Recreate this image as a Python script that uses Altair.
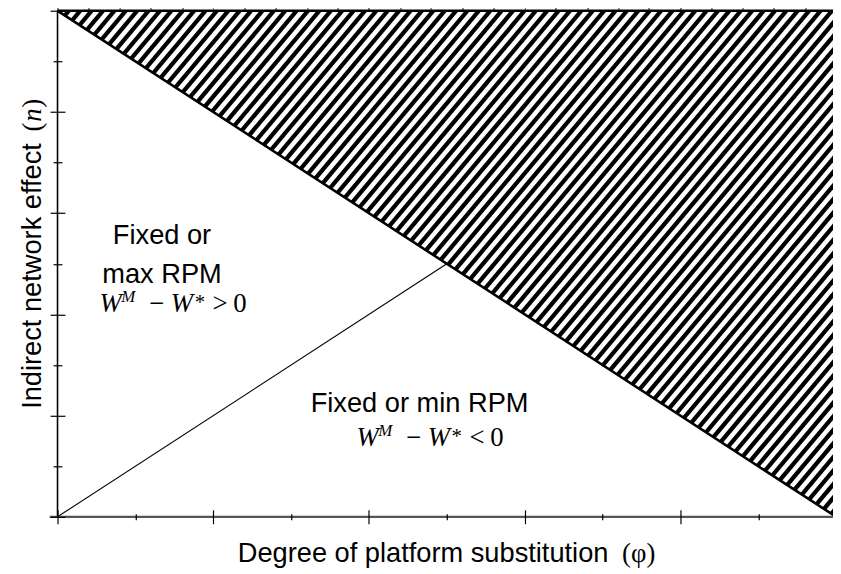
import altair as alt
import numpy as np
import pandas as pd

# ---------------- data ----------------
x_max = 4.98
y_max = 5.0
x_major = [0, 1, 2, 3, 4]
x_minor = [0.5, 1.5, 2.5, 3.5, 4.5]
y_major = [0, 1, 2, 3, 4, 5]
y_minor = [0.5, 1.5, 2.5, 3.5, 4.5]

diag_x = [0, 5]
diag_y = [5, 0]
inner_x = [0, 2.5]
inner_y = [0, 2.5]

label_text = ["Fixed or", "max RPM", "Fixed or min RPM"]
label_x = [0.671, 0.671, 2.325]
label_y = [2.70, 2.31, 1.037]

formula_x = [0.27, 1.92]
formula_y = [2.02, 0.70]
formula_rel = [">", "<"]

x_title = "Degree of platform substitution"
x_title_sym = "(φ)"
y_title = "Indirect network effect"
y_title_sym = "n"

# ---------------- layout ----------------
W, H = 783, 511
SANS = "Liberation Sans"
SERIF = "Liberation Serif"
FS = 27.5

xs = alt.Scale(domain=[0, x_max], nice=False, zero=False)
ys = alt.Scale(domain=[0, y_max], nice=False, zero=False)

# hatch pattern (decorative stripes)
px_per_x = W / x_max
period_px = 11.5
angle = np.deg2rad(50)
run_x = (H / np.tan(angle)) / px_per_x
starts = np.arange(-run_x, x_max + 0.1, period_px / px_per_x)
hatch = pd.DataFrame({"x": starts, "y": 0.0, "x2": starts + run_x, "y2": y_max})

def X(field, axis=None):
    return alt.X(field, type="quantitative", scale=xs, axis=axis)

def Y(field, axis=None):
    return alt.Y(field, type="quantitative", scale=ys, axis=axis)

ax_major_x = alt.Axis(values=x_major, tickSize=14, offset=-7, domain=False, labels=False,
                      title=None, grid=False, tickColor="black", tickWidth=1.2, zindex=1,
                      orient="bottom")
ax_major_y = alt.Axis(values=y_major, tickSize=15, offset=-7.5, domain=False, labels=False,
                      title=None, grid=False, tickColor="black", tickWidth=1.2, zindex=1,
                      orient="left")
ax_minor_x = alt.Axis(values=x_minor, tickSize=6, offset=-3, domain=False, labels=False,
                      title=None, grid=False, tickColor="black", tickWidth=1.2, zindex=1,
                      orient="bottom")
ax_minor_y = alt.Axis(values=y_minor, tickSize=9, offset=-4.5, domain=False, labels=False,
                      title=None, grid=False, tickColor="black", tickWidth=1.2, zindex=1,
                      orient="left")

stripes = alt.Chart(hatch).mark_rule(clip=True, color="black", strokeWidth=4.3).encode(
    x=X("x", ax_major_x), y=Y("y", ax_major_y), x2="x2", y2="y2")

diag_df = pd.DataFrame({"x": diag_x, "y": diag_y})
white = alt.Chart(diag_df).mark_area(clip=True, color="white", opacity=1).encode(
    x=X("x"), y=Y("y"), y2=alt.datum(0))

top_border = alt.Chart(pd.DataFrame({"a": [0]})).mark_rule(color="black", strokeWidth=2.5).encode(
    x=alt.datum(0, type="quantitative", scale=xs), x2=alt.datum(x_max), y=alt.datum(y_max, type="quantitative", scale=ys))

diag = alt.Chart(diag_df).mark_line(clip=True, color="black", strokeWidth=2.6).encode(
    x=X("x"), y=Y("y"))

inner = alt.Chart(pd.DataFrame({"x": inner_x, "y": inner_y})).mark_line(color="black", strokeWidth=1.1).encode(
    x=X("x", ax_minor_x), y=Y("y", ax_minor_y))

y_axis_line = alt.Chart(pd.DataFrame({"a": [0]})).mark_rule(color="black", strokeWidth=1.6).encode(
    x=alt.datum(0, type="quantitative", scale=xs), y=alt.datum(0, type="quantitative", scale=ys), y2=alt.datum(y_max))

x_axis_line = alt.Chart(pd.DataFrame({"a": [0]})).mark_rule(color="#555555", strokeWidth=2.2).encode(
    x=alt.datum(-0.05, type="quantitative", scale=xs), x2=alt.datum(x_max), y=alt.datum(0, type="quantitative", scale=ys))

labels = alt.Chart(pd.DataFrame({"x": label_x, "y": label_y, "t": label_text})).mark_text(
    font=SANS, fontSize=FS, align="center", baseline="alphabetic", color="black").encode(
    x=X("x"), y=Y("y"), text="t:N")

fdf = pd.DataFrame({"x": formula_x, "y": formula_y, "rel": formula_rel})
pieces = [
    ("W", "italic", 27, 0, 0),
    ("M", "italic", 17, 22, -10),
    ("−", "normal", 27, 50, 0),
    ("W", "italic", 27, 72, 0),
    ("*", "normal", 21, 96, -3),
    (None, "normal", 27, 114, 0),
    ("0", "normal", 27, 135, 0),
]
formula_layers = []
for txt, style, size, dx, dy in pieces:
    m = alt.Chart(fdf).mark_text(font=SERIF, fontStyle=style, fontSize=size, align="left",
                                 baseline="alphabetic", dx=dx, dy=dy, color="black")
    if txt is None:
        formula_layers.append(m.encode(x=X("x"), y=Y("y"), text="rel:N"))
    else:
        formula_layers.append(m.encode(x=X("x"), y=Y("y"), text=alt.value(txt)))

# axis titles as text marks (mixed fonts)
tdf = pd.DataFrame({"a": [0]})
xt_anchor_x = (240 - 58) / px_per_x
xtitle = alt.Chart(tdf).mark_text(font=SANS, fontSize=FS, align="left", baseline="alphabetic",
                                  dy=46, color="black").encode(
    x=alt.datum(xt_anchor_x, type="quantitative", scale=xs), y=alt.datum(0, type="quantitative", scale=ys),
    text=alt.value(x_title))
xtitle_sym = alt.Chart(tdf).mark_text(font=SERIF, fontSize=27, align="left", baseline="alphabetic",
                                      dx=388, dy=46, color="black").encode(
    x=alt.datum(xt_anchor_x, type="quantitative", scale=xs), y=alt.datum(0, type="quantitative", scale=ys),
    text=alt.value(x_title_sym))

yt_x = (41 - 58) / px_per_x
yt_y = (519 - 410) / (H / y_max)
ytitle = alt.Chart(tdf).mark_text(font=SANS, fontSize=FS, align="left", baseline="alphabetic",
                                  angle=270, color="black").encode(
    x=alt.datum(yt_x, type="quantitative", scale=xs), y=alt.datum(yt_y, type="quantitative", scale=ys),
    text=alt.value(y_title))
ysym_layers = []
for txt, style, dx in [("(", "normal", 280), (y_title_sym, "italic", 290), (")", "normal", 304)]:
    ysym_layers.append(alt.Chart(tdf).mark_text(font=SERIF, fontStyle=style, fontSize=27, align="left",
                                                baseline="alphabetic", angle=270, dx=dx, color="black").encode(
        x=alt.datum(yt_x, type="quantitative", scale=xs), y=alt.datum(yt_y, type="quantitative", scale=ys),
        text=alt.value(txt)))

chart = alt.layer(
    stripes, white, top_border, diag, inner, y_axis_line, x_axis_line, labels,
    *formula_layers, xtitle, xtitle_sym, ytitle, *ysym_layers
).resolve_axis(x="independent", y="independent").properties(
    width=W, height=H,
    autosize=alt.AutoSizeParams(type="none"),
    padding={"left": 50, "top": 0, "right": 0, "bottom": 55},
).configure_view(stroke=None)

chart.save("out.html", embed_options={"renderer": "svg", "actions": False})
